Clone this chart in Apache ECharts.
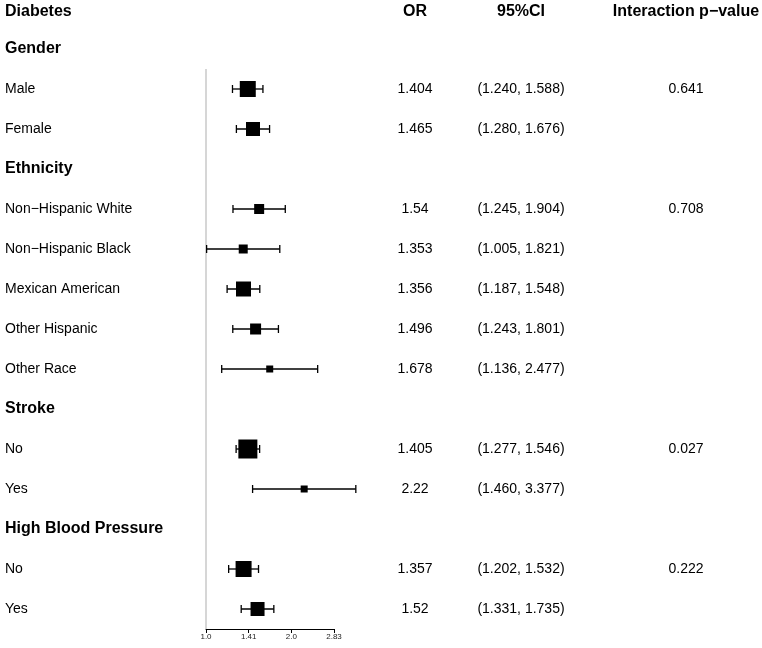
<!DOCTYPE html>
<html>
<head>
<meta charset="utf-8">
<title>Diabetes forest plot</title>
<script src="https://cdn.jsdelivr.net/npm/echarts@6/dist/echarts.min.js"></script>
<style>
  html, body { margin: 0; padding: 0; background: #fff; }
  #chart { width: 762px; height: 648px; }
</style>
</head>
<body>
<div id="chart"></div>
<script>
// rows, top to bottom (group headings have no OR)
const rowLabels = ['Gender', 'Male', 'Female', 'Ethnicity', 'Non\u2212Hispanic White', 'Non\u2212Hispanic Black',
  'Mexican American', 'Other Hispanic', 'Other Race', 'Stroke', 'No', 'Yes', 'High Blood Pressure', 'No', 'Yes']
const orValues = [null, 1.404, 1.465, null, 1.54, 1.353, 1.356, 1.496, 1.678, null, 1.405, 2.22, null, 1.357, 1.52]
const ciLower = [null, 1.240, 1.280, null, 1.245, 1.005, 1.187, 1.243, 1.136, null, 1.277, 1.460, null, 1.202, 1.331]
const ciUpper = [null, 1.588, 1.676, null, 1.904, 1.821, 1.548, 1.801, 2.477, null, 1.546, 3.377, null, 1.532, 1.735]
const pValues = ['', '0.641', '', '', '0.708', '', '', '', '', '', '0.027', '', '', '0.222', '']
const xTickLabels = ['1.0', '1.41', '2.0', '2.83']

// box side in px per row (study weight)
const boxPx = [0, 16, 14, 0, 10, 9, 15, 11, 7, 0, 19, 7, 0, 16, 14]

const FONT = 'Liberation Sans, Arial, sans-serif'
const COL_OR = 415
const COL_CI = 521
const COL_P = 686

const log2 = v => Math.log2(v)

const pointData = []
const ciData = []
orValues.forEach((v, i) => {
  if (v === null) return
  pointData.push({ value: [log2(v), i], symbolSize: boxPx[i] })
  ciData.push([log2(ciLower[i]), log2(ciUpper[i]), i])
})

const textData = rowLabels.map((label, i) => [0, i])

const chart = echarts.init(document.getElementById('chart'))

const option = {
  animation: false,
  textStyle: { fontFamily: FONT },
  grid: { left: 206, width: 128, top: 29, bottom: 19 },
  xAxis: {
    type: 'value',
    min: 0,
    max: 1.5,
    interval: 0.5,
    splitLine: { show: false },
    axisLine: { show: true, onZero: false, lineStyle: { color: '#000', width: 1 } },
    axisTick: { show: true, length: 4, lineStyle: { color: '#000' } },
    axisLabel: {
      margin: 4,
      fontSize: 8,
      color: '#222',
      formatter: (val) => xTickLabels[Math.round(val / 0.5)]
    }
  },
  yAxis: {
    type: 'value',
    min: -0.5,
    max: 14.5,
    inverse: true,
    show: false
  },
  graphic: [
    { type: 'text', left: 5, top: 4, style: { text: 'Diabetes', font: 'bold 16px ' + FONT, fill: '#000' } },
    { type: 'text', x: COL_OR, y: 12, style: { text: 'OR', font: 'bold 16px ' + FONT, fill: '#000', align: 'center', verticalAlign: 'middle' } },
    { type: 'text', x: COL_CI, y: 12, style: { text: '95%CI', font: 'bold 16px ' + FONT, fill: '#000', align: 'center', verticalAlign: 'middle' } },
    { type: 'text', x: COL_P, y: 12, style: { text: 'Interaction p\u2212value', font: 'bold 16px ' + FONT, fill: '#000', align: 'center', verticalAlign: 'middle' } }
  ],
  series: [
    {
      // reference line at OR = 1
      type: 'line',
      data: [[0, 0.5], [0, 14.5]],
      symbol: 'none',
      silent: true,
      lineStyle: { color: '#d6d6d6', width: 2 },
      z: 1
    },
    {
      type: 'custom',
      clip: false,
      data: ciData,
      renderItem: function (params, api) {
        const lo = api.coord([api.value(0), api.value(2)])
        const hi = api.coord([api.value(1), api.value(2)])
        const cap = 4
        const style = { stroke: '#000', lineWidth: 1.3 }
        return {
          type: 'group',
          children: [
            { type: 'line', shape: { x1: lo[0], y1: lo[1], x2: hi[0], y2: hi[1] }, style },
            { type: 'line', shape: { x1: lo[0], y1: lo[1] - cap, x2: lo[0], y2: lo[1] + cap }, style },
            { type: 'line', shape: { x1: hi[0], y1: hi[1] - cap, x2: hi[0], y2: hi[1] + cap }, style }
          ]
        }
      },
      z: 2
    },
    {
      type: 'scatter',
      symbol: 'rect',
      data: pointData,
      itemStyle: { color: '#000', opacity: 1 },
      z: 3
    },
    {
      // table text columns
      type: 'custom',
      clip: false,
      silent: true,
      data: textData,
      renderItem: function (params, api) {
        const i = params.dataIndex
        const y = api.coord([0, i])[1]
        const isGroup = orValues[i] === null
        const children = [{
          type: 'text',
          x: 5,
          y: y,
          style: {
            text: rowLabels[i],
            font: (isGroup ? 'bold 16px ' : '14px ') + FONT,
            fill: '#000',
            verticalAlign: 'middle'
          }
        }]
        if (!isGroup) {
          children.push({
            type: 'text', x: COL_OR, y: y,
            style: { text: String(orValues[i]), font: '14px ' + FONT, fill: '#000', align: 'center', verticalAlign: 'middle' }
          })
          children.push({
            type: 'text', x: COL_CI, y: y,
            style: { text: '(' + ciLower[i].toFixed(3) + ', ' + ciUpper[i].toFixed(3) + ')', font: '14px ' + FONT, fill: '#000', align: 'center', verticalAlign: 'middle' }
          })
          if (pValues[i]) {
            children.push({
              type: 'text', x: COL_P, y: y,
              style: { text: pValues[i], font: '14px ' + FONT, fill: '#000', align: 'center', verticalAlign: 'middle' }
            })
          }
        }
        return { type: 'group', children }
      },
      z: 4
    }
  ]
}

chart.setOption(option)
</script>
</body>
</html>
